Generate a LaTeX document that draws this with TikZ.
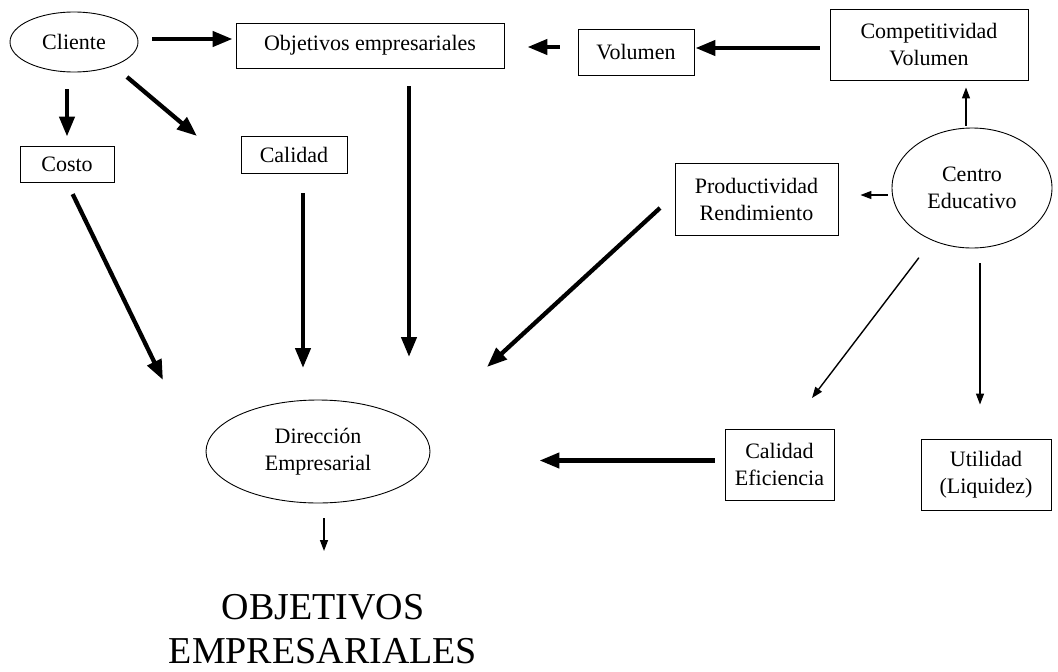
\documentclass[tikz,border=0pt]{standalone}
\usepackage{fontspec}
\setmainfont{Liberation Serif}
\usetikzlibrary{arrows.meta,shapes.geometric}
\begin{document}
\begin{tikzpicture}[x=1pt,y=-1pt,
  lbl/.style={align=center,inner sep=0pt,font=\fontsize{22}{27}\selectfont},
  box/.style={lbl,draw,line width=0.9pt},
  oval/.style={lbl,draw,ellipse,line width=0.9pt},
  titletext/.style={align=center,inner sep=0pt,font=\fontsize{38}{44}\selectfont},
  thk/.style={line width=4.3pt,-{Triangle[length=20pt,width=15pt]}},
  thn/.style={line width=1.4pt,-{Triangle[length=11pt,width=8pt]}}]
\useasboundingbox (0,0) rectangle (1058,672);
% nodes
\node[oval,minimum width=128pt,minimum height=60pt] (cliente) at (74,42) {Cliente};
\node[box,minimum width=268pt,minimum height=45pt] (objemp) at (370,45.5) {Objetivos empresariales};
\node[box,minimum width=94pt,minimum height=36pt] (costo) at (67,164) {Costo};
\node[box,minimum width=106pt,minimum height=37pt] (calidad) at (294,154.5) {Calidad};
\node[box,minimum width=116pt,minimum height=46pt] (volumen) at (636,52) {Volumen};
\node[box,minimum width=198pt,minimum height=71pt] (comp) at (929,44.5) {Competitividad\\Volumen};
\node[box,minimum width=163pt,minimum height=72pt] (prod) at (756.5,199) {Productividad\\Rendimiento};
\node[oval,minimum width=160pt,minimum height=120pt] (centro) at (972,188) {Centro\\Educativo};
\node[oval,minimum width=224pt,minimum height=103pt] (dir) at (318,451.5) {Dirección\\Empresarial};
\node[box,minimum width=109pt,minimum height=71pt] (calef) at (779.5,464.5) {Calidad\\Eficiencia};
\node[box,minimum width=130pt,minimum height=71pt] (util) at (986,474.5) {Utilidad\\(Liquidez)};
\node[titletext,anchor=north] (obj) at (323,594) {OBJETIVOS\\EMPRESARIALES};
% free ends
\coordinate (e1) at (127,77);
\coordinate (e2) at (197,136);
\coordinate (f) at (409,357);
\coordinate (g) at (303,368);
\coordinate (h) at (163,380);
\coordinate (i1) at (660,208);
\coordinate (i2) at (487,367);
\coordinate (l) at (812,398);
% connectors
\draw[thk,shorten <=14pt,shorten >=3pt] ([yshift=3pt]cliente.east) -- ([yshift=3pt]cliente.east -| objemp.west);
\draw[thk,shorten <=18pt,shorten >=23pt] ([yshift=5pt]volumen.west) -- ([yshift=5pt]volumen.west -| objemp.east);
\draw[thk,shorten <=10pt,shorten >=1pt] ([yshift=-3.5pt]comp.west) -- ([yshift=-3.5pt]comp.west -| volumen.east);
\draw[thk,shorten <=17pt,shorten >=9pt] (costo.north |- cliente.south) -- (costo.north);
\draw[thk] (e1) -- (e2);
\draw[thk,shorten <=18pt] ([xshift=39pt]objemp.south) -- (f);
\draw[thk,shorten <=20pt] ([xshift=9pt]calidad.south) -- (g);
\draw[thk,shorten <=13pt] (costo.south) -- (h);
\draw[thk] (i1) -- (i2);
\draw[thk,shorten <=10pt,shorten >=109pt] ([yshift=4pt]calef.west) -- ([yshift=4pt]calef.west -| dir.east);
\draw[thn,shorten <=4pt,shorten >=22pt] ([yshift=-7pt]centro.west) -- ([yshift=-7pt]centro.west -| prod.east);
\draw[thn,shorten <=2pt,shorten >=7pt] ([xshift=-6pt]centro.north) -- ([xshift=-6pt]centro.north |- comp.south);
\draw[thn,shorten <=87.6pt] (centro.center) -- (l);
\draw[thn,shorten <=15pt,shorten >=34pt] ([xshift=8pt]centro.south) -- ([xshift=8pt]centro.south |- util.north);
\draw[thn,shorten <=15pt,shorten >=43pt] ([xshift=6pt]dir.south) -- ([xshift=6pt]dir.south |- obj.north);
\end{tikzpicture}
\end{document}
